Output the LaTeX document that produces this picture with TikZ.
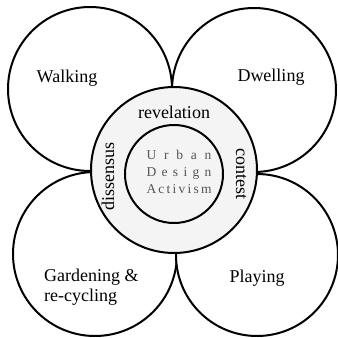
\documentclass[tikz,border=0pt]{standalone}
\usepackage{fontspec}
\setmainfont{Liberation Serif}
\usepackage{tikz}
\definecolor{ringgray}{RGB}{244,244,244}
\definecolor{coregray}{RGB}{85,85,85}
\def\lw{2pt}
\tikzset{petal/.style={line width=\lw, fill=white}}
\tikzset{ring/.style={line width=\lw, fill=ringgray}}
\tikzset{lbl/.style={font=\fontsize{18}{20.5}\selectfont, inner sep=0pt}}
\tikzset{core/.style={font=\fontsize{13.5}{17}\selectfont, text=coregray, inner sep=0pt, align=center}}
\newcommand{\spreadword}[1]{\makebox[65pt][s]{#1}}

\begin{document}
\begin{tikzpicture}[x=1pt,y=-1pt]
  \useasboundingbox (0,0) rectangle (338,338);
  % Petals
  \draw[petal] (90,89) circle (82);
  \draw[petal] (254,90) circle (82);
  \draw[petal] (95,254) circle (82);
  \draw[petal] (257,255) circle (81);

  % Ring and core
  \draw[ring] (174,170) circle (83);
  \draw[ring] (174,174) circle (49);

  % Activities
  \node[lbl] (walking) at (67,78) {Walking};
  \node[lbl] (dwelling) at (271,77) {Dwelling};
  \node[lbl, align=left, anchor=west] (garden) at (44,287) {Gardening \&\\re-cycling};
  \node[lbl] (playing) at (257,278) {Playing};

  % Ring words
  \node[lbl] (revel) at (174,112) {revelation};
  \node[lbl, rotate=90] (dissens) at (108,176) {dissensus};
  \node[lbl, rotate=-90] (contest) at (241,174) {contest};

  % Core
  \node[core] (uda) at (179,172)
    {\spreadword{U\hfill r\hfill b\hfill a\hfill n}\\
     \spreadword{D\hfill e\hfill s\hfill i\hfill g\hfill n}\\
     \spreadword{A\hfill c\hfill t\hfill i\hfill v\hfill i\hfill s\hfill m}};
\end{tikzpicture}
\end{document}
